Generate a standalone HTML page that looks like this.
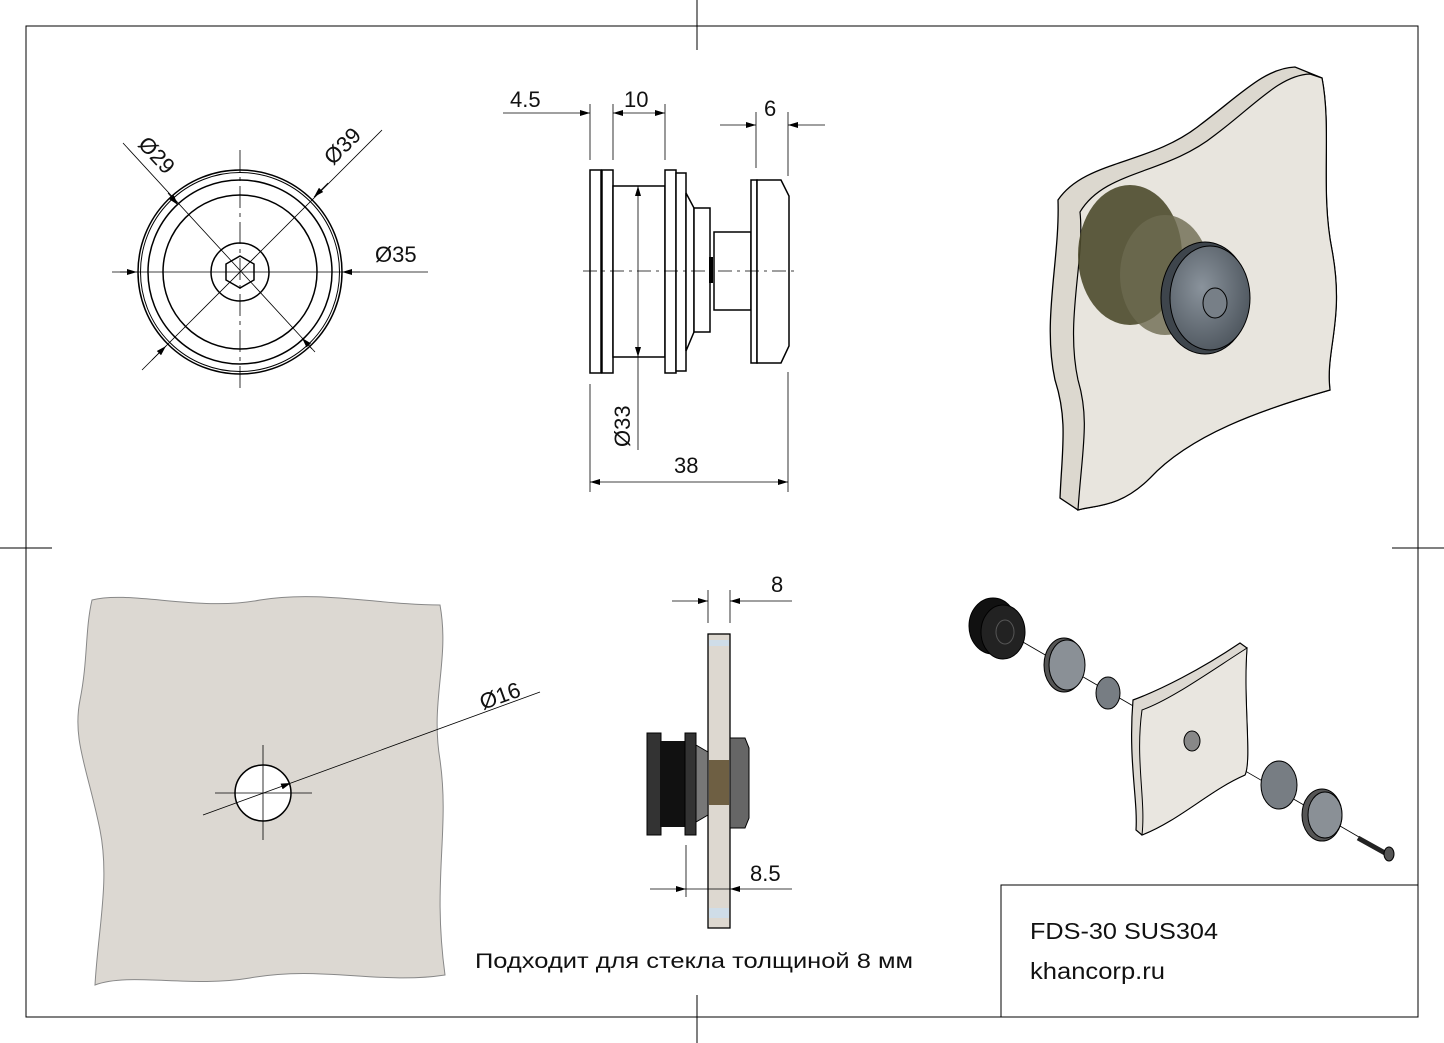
<!DOCTYPE html>
<html><head><meta charset="utf-8"><style>
html,body{margin:0;padding:0;background:#fff}
svg{display:block}
text{font-family:"Liberation Sans",Arial,sans-serif;fill:#111}
</style></head><body>
<svg width="1444" height="1043" viewBox="0 0 1444 1043" xmlns="http://www.w3.org/2000/svg">
<defs>
<marker id="a" viewBox="0 0 10 6" refX="10" refY="3" markerWidth="12" markerHeight="6" orient="auto-start-reverse" markerUnits="userSpaceOnUse"><path d="M0,0L10,3L0,6Z" fill="#000"/></marker>
<radialGradient id="cap" cx="40%" cy="40%" r="70%"><stop offset="0" stop-color="#8a939c"/><stop offset="1" stop-color="#4a525a"/></radialGradient>
</defs>
<g stroke="#000" fill="none">
<rect x="26" y="26" width="1392" height="991" stroke-width="1"/>
<line x1="697" y1="0" x2="697" y2="50"/><line x1="697" y1="995" x2="697" y2="1043"/>
<line x1="0" y1="548" x2="52" y2="548"/><line x1="1392" y1="548" x2="1444" y2="548"/>
<rect x="1001" y="885" width="417" height="132"/>
</g>
<text x="1030" y="939" font-size="23" textLength="188" lengthAdjust="spacingAndGlyphs">FDS-30 SUS304</text>
<text x="1030" y="979" font-size="23" textLength="135" lengthAdjust="spacingAndGlyphs">khancorp.ru</text>
<text x="475" y="968" font-size="21.5" textLength="438" lengthAdjust="spacingAndGlyphs">Подходит для стекла толщиной  8 мм</text>

<!-- front circle view -->
<g stroke="#000" fill="none" stroke-width="1.5">
<circle cx="240" cy="272" r="102"/><circle cx="240" cy="272" r="99.5" stroke-width="1"/>
<circle cx="240" cy="272" r="92"/><circle cx="240" cy="272" r="77"/>
<circle cx="240" cy="272" r="29"/>
<polygon points="240,256 254,264 254,280 240,288 226,280 226,264"/>
</g>
<g stroke="#000" stroke-width="0.8" fill="none">
<line x1="112" y1="272" x2="428" y2="272"/>
<line x1="240" y1="150" x2="240" y2="392" stroke-dasharray="22,5,4,5"/>
<line x1="123" y1="143" x2="315" y2="352"/>
<line x1="382" y1="130" x2="142" y2="370"/>
<line x1="137" y1="272" x2="120" y2="272" marker-start="url(#a)"/>
<line x1="342" y1="272" x2="360" y2="272" marker-start="url(#a)"/>
<line x1="178" y1="205" x2="168" y2="193" marker-start="url(#a)"/>
<line x1="302" y1="338" x2="312" y2="349" marker-start="url(#a)"/>
<line x1="314" y1="197" x2="328" y2="183" marker-start="url(#a)"/>
<line x1="166" y1="346" x2="152" y2="360" marker-start="url(#a)"/>
</g>
<text x="375" y="262" font-size="22">Ø35</text>
<text transform="translate(137,145) rotate(47)" font-size="22">Ø29</text>
<text transform="translate(333,166) rotate(-45)" font-size="22">Ø39</text>

<!-- side view -->
<g stroke="#000" fill="#fff" stroke-width="1.5">
<rect x="590" y="170" width="11" height="203"/>
<rect x="602" y="170" width="11" height="203"/>
<rect x="613" y="186" width="52" height="171"/>
<rect x="665" y="170" width="11" height="203"/>
<rect x="676" y="173" width="10" height="198"/>
<polygon points="686,193 694,208 694,332 686,351"/>
<rect x="694" y="208" width="16" height="124"/>
<rect x="714" y="232" width="37" height="78"/>
<rect x="751" y="180" width="6" height="183"/>
<polygon points="757,180 781,180 789,196 789,346 781,363 757,363"/>
</g>
<rect x="709" y="257" width="4" height="26" fill="#000"/>
<g stroke="#000" stroke-width="0.8" fill="none">
<line x1="583" y1="271" x2="795" y2="271" stroke-dasharray="14,5,3,5"/>
<line x1="590" y1="104" x2="590" y2="160"/><line x1="613" y1="104" x2="613" y2="160"/><line x1="665" y1="104" x2="665" y2="160"/>
<line x1="756" y1="112" x2="756" y2="168"/><line x1="788" y1="112" x2="788" y2="176"/>
<line x1="590" y1="384" x2="590" y2="492"/><line x1="788" y1="372" x2="788" y2="492"/>
<line x1="503" y1="113" x2="590" y2="113" marker-end="url(#a)"/>
<line x1="613" y1="113" x2="665" y2="113" marker-start="url(#a)" marker-end="url(#a)"/>
<line x1="720" y1="125" x2="756" y2="125" marker-end="url(#a)"/>
<line x1="825" y1="125" x2="788" y2="125" marker-end="url(#a)"/>
<line x1="590" y1="482" x2="788" y2="482" marker-start="url(#a)" marker-end="url(#a)"/>
<line x1="638" y1="186" x2="638" y2="357" marker-start="url(#a)" marker-end="url(#a)"/>
<line x1="638" y1="357" x2="638" y2="450"/>
</g>
<text x="510" y="107" font-size="22">4.5</text>
<text x="624" y="107" font-size="22">10</text>
<text x="764" y="116" font-size="22">6</text>
<text x="674" y="473" font-size="22">38</text>
<text transform="translate(630,447) rotate(-90)" font-size="22">Ø33</text>

<!-- 3D view top-right -->
<path d="M1058,200 C1085,160 1150,165 1200,125 C1240,95 1265,68 1295,67 L1322,78 C1332,130 1320,190 1332,250 C1345,320 1325,350 1330,390 C1260,410 1190,435 1150,478 C1120,508 1095,505 1078,510 L1060,498 C1062,450 1068,420 1055,380 C1042,320 1060,260 1058,200Z" fill="#dcd8cf" stroke="#000" stroke-width="1.3"/>
<path d="M1080,212 C1105,170 1165,175 1215,135 C1255,105 1280,75 1310,74 L1322,78 C1332,130 1320,190 1332,250 C1345,320 1325,350 1330,390 C1260,410 1190,435 1150,478 C1120,508 1095,505 1078,510 C1082,450 1090,420 1078,380 C1065,320 1085,260 1080,212Z" fill="#e8e5de" stroke="#000" stroke-width="1.2"/>
<ellipse cx="1130" cy="255" rx="52" ry="70" fill="#4d4a2c" opacity="0.9"/>
<ellipse cx="1165" cy="275" rx="45" ry="60" fill="#6d6a50" opacity="0.8"/>
<ellipse cx="1205" cy="298" rx="44" ry="56" fill="#3e454c" stroke="#000"/>
<ellipse cx="1210" cy="298" rx="40" ry="52" fill="url(#cap)" stroke="#000"/>
<ellipse cx="1215" cy="303" rx="12" ry="15" fill="#777f87" stroke="#000"/>

<!-- bottom-left plate -->
<path d="M92,600 C130,590 200,612 260,600 C320,590 380,605 440,605 C450,660 430,700 440,760 C450,830 432,880 445,975 C380,985 320,965 250,978 C190,988 130,972 95,985 C98,930 110,880 100,830 C88,770 72,740 80,700 C88,660 85,630 92,600Z" fill="#dcd8d2" stroke="#888" stroke-width="1"/>
<circle cx="263" cy="793" r="28" fill="#fff" stroke="#000" stroke-width="1.5"/>
<g stroke="#000" stroke-width="0.8" fill="none">
<line x1="263" y1="745" x2="263" y2="840"/><line x1="215" y1="793" x2="312" y2="793"/>
<line x1="203" y1="815" x2="291" y2="783" marker-end="url(#a)"/>
<line x1="291" y1="783" x2="540" y2="692"/>
</g>
<text transform="translate(483,710) rotate(-20)" font-size="22">Ø16</text>

<!-- bottom-middle side view -->
<rect x="708" y="634" width="22" height="294" fill="#ddd8d0" stroke="#000" stroke-width="1.3"/>
<rect x="709" y="640" width="20" height="6" fill="#cfdde8"/>
<rect x="709" y="908" width="20" height="10" fill="#cfdde8"/>
<rect x="709" y="760" width="20" height="45" fill="#6e5f43"/>
<rect x="647" y="733" width="14" height="102" fill="#333" stroke="#000"/>
<rect x="660" y="741" width="26" height="86" fill="#111"/>
<rect x="685" y="733" width="11" height="102" fill="#333" stroke="#000"/>
<polygon points="696,745 708,752 708,815 696,822" fill="#777" stroke="#000"/>
<polygon points="730,738 745,738 749,748 749,818 745,828 730,828" fill="#666" stroke="#000"/>
<g stroke="#000" stroke-width="0.8" fill="none">
<line x1="708" y1="590" x2="708" y2="623"/><line x1="730" y1="590" x2="730" y2="623"/>
<line x1="672" y1="601" x2="708" y2="601" marker-end="url(#a)"/>
<line x1="792" y1="601" x2="730" y2="601" marker-end="url(#a)"/>
<line x1="686" y1="845" x2="686" y2="897"/>
<line x1="650" y1="889" x2="686" y2="889" marker-end="url(#a)"/>
<line x1="792" y1="889" x2="730" y2="889" marker-end="url(#a)"/>
<line x1="686" y1="889" x2="730" y2="889"/>
</g>
<text x="771" y="592" font-size="22">8</text>
<text x="750" y="881" font-size="22">8.5</text>

<!-- exploded view -->
<line x1="985" y1="620" x2="1390" y2="855" stroke="#000" stroke-width="0.8"/>
<ellipse cx="993" cy="626" rx="24" ry="28" fill="#111" stroke="#000"/>
<ellipse cx="1003" cy="632" rx="22" ry="27" fill="#222" stroke="#000"/>
<ellipse cx="1005" cy="632" rx="9" ry="12" fill="none" stroke="#555"/>
<ellipse cx="1064" cy="665" rx="20" ry="27" fill="#555" stroke="#000"/>
<ellipse cx="1067" cy="665" rx="18" ry="25" fill="#8a9096" stroke="#000"/>
<ellipse cx="1108" cy="693" rx="12" ry="16" fill="#777d83" stroke="#000"/>
<path d="M1133,700 C1160,690 1200,670 1240,643 L1247,648 C1243,700 1252,760 1245,775 C1210,790 1180,820 1142,835 L1136,830 C1138,800 1128,760 1133,700Z" fill="#ddd9d2" stroke="#000" stroke-width="1.2"/>
<path d="M1142,710 C1170,700 1205,675 1247,648 C1243,700 1252,760 1245,775 C1210,790 1180,820 1142,835 C1146,800 1135,760 1142,710Z" fill="#e9e6e0" stroke="#000" stroke-width="1"/>
<ellipse cx="1192" cy="741" rx="8" ry="10" fill="#888" stroke="#000"/>
<ellipse cx="1279" cy="785" rx="18" ry="24" fill="#777d83" stroke="#000"/>
<ellipse cx="1322" cy="815" rx="20" ry="26" fill="#555" stroke="#000"/>
<ellipse cx="1325" cy="815" rx="17" ry="23" fill="#8a9096" stroke="#000"/>
<line x1="1358" y1="838" x2="1385" y2="853" stroke="#222" stroke-width="5"/>
<ellipse cx="1389" cy="854" rx="5" ry="7" fill="#555" stroke="#000"/>
</svg>
</body></html>
